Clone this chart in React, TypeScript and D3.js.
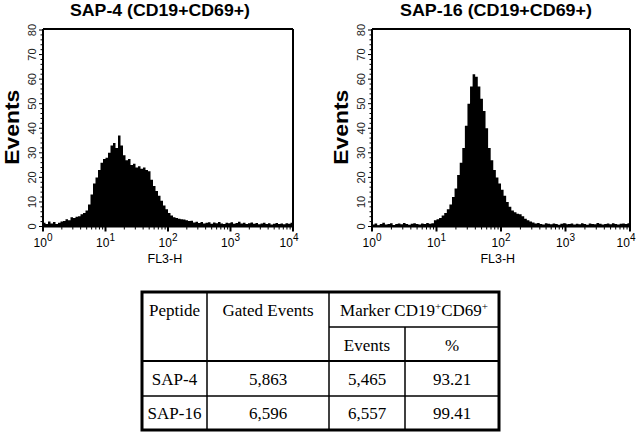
import React from "react";
import * as d3 from "d3";

const sap4Counts: number[] = [
  1.5, 1, 2, 1.2, 1.8, 1, 1.5, 2, 2.2, 3,
  2.5, 3.8, 3.5, 4, 4.2, 5, 5.5, 6.5, 9, 13,
  17.5, 20, 23, 26, 27.5, 28, 30, 33, 34, 32,
  37, 33, 29, 27, 27.5, 25, 25.5, 24, 24.5, 23.5,
  24, 23, 22.5, 19, 16.5, 14.5, 12.5, 10.5, 8.6, 7,
  5.5, 4.5, 3.8, 3.5, 3.2, 3, 2.8, 2.5, 2.2, 2.3,
  1.6, 1.9, 1.4, 1.8, 1.2, 1.5, 1.7, 1.1, 1.6, 1.3,
  1.8, 1.2, 1, 1.5, 1.3, 1.7, 1.1, 1.4, 1.9, 1.2,
  1.5, 1, 1.3, 1.6, 1.1, 1.4, 0.9, 1.2, 1.5, 1,
  1.3, 0.8, 1.1, 1.4, 1, 1.2, 0.9, 1.3, 1.1, 1.5
];

const sap16Counts: number[] = [
  0.8, 1.2, 0.5, 1, 1.5, 0.8, 1, 1.3, 0.6, 1,
  1.2, 0.9, 1.4, 1, 0.7, 1.1, 1.3, 1, 0.8, 1.2,
  1, 1.4, 1.1, 1.3, 2.5, 3, 3.5, 4.5, 5.5, 7,
  9, 12, 15.5, 21, 26, 32, 41, 50, 57, 62,
  61, 57, 52, 47, 40, 32, 27, 23, 20, 17.5,
  15, 12.5, 10, 8, 6.5, 5.8, 5.2, 5, 4.2, 3.2,
  2.5, 2, 1.6, 1.2, 1.4, 1, 0.8, 1.3, 1.1, 0.9,
  1.2, 1, 0.7, 1.1, 1.3, 0.9, 1, 1.2, 0.8, 1.1,
  0.9, 1.3, 1, 0.7, 1.2, 1, 0.9, 1.4, 1.1, 0.8,
  1, 1.2, 0.9, 1.3, 1, 0.8, 1.1, 1.2, 1, 1.3
];

const yTicks: number[] = [0, 10, 20, 30, 40, 50, 60, 70, 80];
const decadeExponents: number[] = [0, 1, 2, 3, 4];

const tableHeader: string[] = ["Peptide", "Gated Events", "Marker CD19", "Events", "%"];
const peptides: string[] = ["SAP-4", "SAP-16"];
const gatedEvents: string[] = ["5,863", "6,596"];
const markerEvents: string[] = ["5,465", "6,557"];
const markerPercent: string[] = ["93.21", "99.41"];

const SANS = "'Liberation Sans', Arial, Helvetica, sans-serif";
const SERIF = "'Liberation Serif', 'Times New Roman', serif";

function Histogram(props: {
  title: string;
  counts: number[];
  left: number;
  right: number;
  titleX: number;
  titleW: number;
}) {
  const { title, counts, left, right, titleX, titleW } = props;
  const top = 29;
  const bottom = 226.5;
  const x = d3.scaleLog().domain([1, 10000]).range([left, right]);
  const y = d3.scaleLinear().domain([0, 80]).range([bottom, top + 1]);
  const n = counts.length;
  const pts: [number, number][] = counts.map((c, i) => [Math.pow(10, (i * 4) / n), c]);
  pts.push([10000, counts[n - 1]]);
  const area = d3
    .area<[number, number]>()
    .x((d) => x(d[0]))
    .y0(bottom)
    .y1((d) => y(d[1]))
    .curve(d3.curveStepAfter);

  const minorY = d3.range(0, 81, 2);
  const minorX: number[] = [];
  for (let e = 0; e < 4; e++) {
    for (let k = 2; k <= 9; k++) minorX.push(k * Math.pow(10, e));
  }
  const labelX = left - 11;
  const midY = (top + bottom) / 2;
  return (
    <g>
      <text
        x={titleX - titleW / 2}
        y={16}
        textLength={titleW}
        lengthAdjust="spacingAndGlyphs"
        fontFamily={SANS}
        fontWeight="bold"
        fontSize={16.5}
      >
        {title}
      </text>
      <path d={area(pts) || ""} fill="#000" />
      <line x1={left} y1={top} x2={right} y2={top} stroke="#000" strokeWidth={2} />
      <line x1={right} y1={top} x2={right} y2={bottom} stroke="#000" strokeWidth={2} />
      <line x1={left} y1={top} x2={left} y2={bottom + 1} stroke="#000" strokeWidth={2} />
      <line x1={left} y1={bottom} x2={right} y2={bottom} stroke="#000" strokeWidth={2} />
      {minorY.map((v) => (
        <line
          key={"my" + v}
          x1={left - (v % 10 === 0 ? 4 : 2.5)}
          x2={left}
          y1={y(v)}
          y2={y(v)}
          stroke="#000"
          strokeWidth={1}
        />
      ))}
      {yTicks.map((v) => (
        <text
          key={"yt" + v}
          transform={`translate(${labelX},${y(v)}) rotate(-90)`}
          textAnchor="middle"
          dominantBaseline="central"
          fontFamily={SANS}
          fontSize={11}
          fill="#222"
        >
          {v}
        </text>
      ))}
      <text
        transform={`translate(${left - 31},${midY + 37}) rotate(-90)`}
        textLength={75}
        lengthAdjust="spacingAndGlyphs"
        dominantBaseline="central"
        fontFamily={SANS}
        fontWeight="bold"
        fontSize={20}
      >
        Events
      </text>
      {minorX.map((v) => (
        <line
          key={"mx" + v}
          x1={x(v)}
          x2={x(v)}
          y1={bottom}
          y2={bottom + 3}
          stroke="#000"
          strokeWidth={1}
        />
      ))}
      {decadeExponents.map((e) => (
        <g key={"dx" + e}>
          <line
            x1={x(Math.pow(10, e))}
            x2={x(Math.pow(10, e))}
            y1={bottom - 3}
            y2={bottom + 5}
            stroke="#000"
            strokeWidth={2}
          />
          <text
            x={x(Math.pow(10, e)) + (e === 4 ? -4 : 0)}
            y={bottom + 20}
            textAnchor="middle"
            fontFamily={SANS}
            fontSize={12}
          >
            10
            <tspan dy={-6} fontSize={10}>
              {e}
            </tspan>
          </text>
        </g>
      ))}
      <text
        x={x(Math.pow(10, 1.95))}
        y={bottom + 36}
        textAnchor="middle"
        fontFamily={SANS}
        fontSize={12.5}
      >
        FL3-H
      </text>
    </g>
  );
}

function SummaryTable() {
  const L = 142;
  const R = 499;
  const T = 292;
  const B = 430;
  const c1 = 207;
  const c2 = 329;
  const c3 = 405;
  const hMid = 327;
  const r1 = 361;
  const r2 = 396;
  const fs = 17;
  const rowY = [r1, r2];
  const rowH = [r2 - r1, B - r2];
  return (
    <g fontFamily={SERIF} fontSize={fs} fill="#000">
      <rect x={L} y={T} width={R - L} height={B - T} fill="#fff" stroke="none" />
      <line x1={c1} y1={T} x2={c1} y2={B} stroke="#000" strokeWidth={1.5} />
      <line x1={c2} y1={T} x2={c2} y2={B} stroke="#000" strokeWidth={1.5} />
      <line x1={c3} y1={hMid} x2={c3} y2={B} stroke="#000" strokeWidth={1.5} />
      <line x1={c2} y1={hMid} x2={R} y2={hMid} stroke="#000" strokeWidth={1.5} />
      <line x1={L} y1={r1} x2={R} y2={r1} stroke="#000" strokeWidth={2} />
      <line x1={L} y1={r2} x2={R} y2={r2} stroke="#000" strokeWidth={1.5} />
      <rect
        x={L}
        y={T}
        width={R - L}
        height={B - T}
        fill="none"
        stroke="#000"
        strokeWidth={3}
      />
      <text x={(L + c1) / 2} y={316} textAnchor="middle">
        {tableHeader[0]}
      </text>
      <text x={(c1 + c2) / 2} y={316} textAnchor="middle">
        {tableHeader[1]}
      </text>
      <text x={(c2 + R) / 2} y={316} textAnchor="middle">
        {tableHeader[2]}
        <tspan dy={-6} fontSize={11}>
          +
        </tspan>
        <tspan dy={6}>CD69</tspan>
        <tspan dy={-6} fontSize={11}>
          +
        </tspan>
      </text>
      <text x={(c2 + c3) / 2} y={351} textAnchor="middle">
        {tableHeader[3]}
      </text>
      <text x={(c3 + R) / 2} y={351} textAnchor="middle">
        {tableHeader[4]}
      </text>
      {peptides.map((p, i) => {
        const yy = rowY[i] + rowH[i] / 2 + 6;
        return (
          <g key={p}>
            <text x={(L + c1) / 2} y={yy} textAnchor="middle">
              {p}
            </text>
            <text x={(c1 + c2) / 2} y={yy} textAnchor="middle">
              {gatedEvents[i]}
            </text>
            <text x={(c2 + c3) / 2} y={yy} textAnchor="middle">
              {markerEvents[i]}
            </text>
            <text x={(c3 + R) / 2} y={yy} textAnchor="middle">
              {markerPercent[i]}
            </text>
          </g>
        );
      })}
    </g>
  );
}

export default function App() {
  return (
    <svg
      width={640}
      height={432}
      viewBox="0 0 640 432"
      style={{ position: "absolute", left: 0, top: 0, background: "#fff" }}
    >
      <rect x={0} y={0} width={640} height={432} fill="#fff" />
      <Histogram title="SAP-4 (CD19+CD69+)" counts={sap4Counts} left={43} right={293} titleX={160} titleW={180} />
      <Histogram title="SAP-16 (CD19+CD69+)" counts={sap16Counts} left={372} right={630} titleX={496} titleW={192} />
      <SummaryTable />
    </svg>
  );
}
